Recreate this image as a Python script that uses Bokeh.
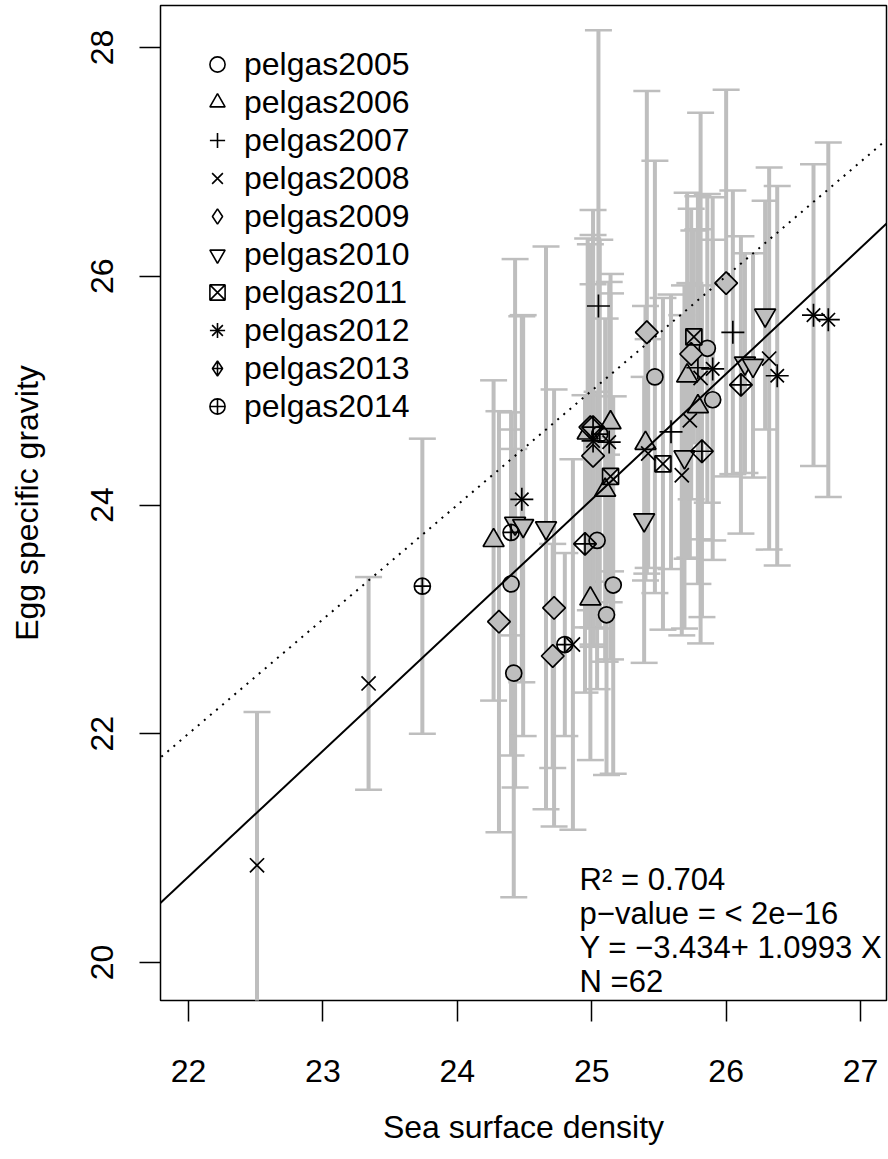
import math
from bokeh.plotting import figure
from bokeh.models import (Range1d, Whisker, TeeHead, ColumnDataSource, Slope,
                          Legend, LegendItem, Label, FixedTicker)
from bokeh.embed import file_html
from bokeh.resources import INLINE

# ---------------- data ----------------
years = ["pelgas2005", "pelgas2006", "pelgas2007", "pelgas2008", "pelgas2009",
         "pelgas2010", "pelgas2011", "pelgas2012", "pelgas2013", "pelgas2014"]

x_2005 = [24.40, 25.16, 25.11, 24.42, 25.04, 25.47, 25.86, 25.90]
y_2005 = [23.31, 23.30, 23.04, 22.53, 23.69, 25.12, 25.37, 24.92]
sd_2005 = [1.50, 1.65, 1.40, 1.96, 1.30, 1.89, 1.35, 1.40]

x_2006 = [24.27, 24.99, 25.14, 24.97, 25.10, 25.40, 25.71, 25.79]
y_2006 = [23.69, 23.18, 24.72, 24.63, 24.13, 24.54, 25.13, 24.86]
sd_2006 = [1.40, 1.41, 1.30, 1.70, 1.50, 1.20, 1.60, 1.55]

x_2007 = [25.05, 26.05, 25.59, 25.79]
y_2007 = [25.74, 25.51, 24.64, 25.20]
sd_2007 = [2.41, 1.24, 1.20, 1.50]

x_2008 = [22.51, 23.34, 24.86, 25.42, 25.73, 25.67, 26.32, 25.81]
y_2008 = [20.85, 22.44, 22.78, 24.45, 24.74, 24.26, 25.28, 25.11]
sd_2008 = [1.34, 0.93, 1.62, 1.00, 1.20, 1.40, 1.67, 2.32]

x_2009 = [24.31, 24.72, 24.71, 25.41, 26.00, 25.74, 24.99, 25.01]
y_2009 = [22.98, 23.10, 22.68, 25.51, 25.94, 25.32, 24.68, 24.43]
sd_2009 = [1.84, 1.91, 0.98, 2.11, 1.69, 1.27, 1.60, 1.50]

x_2010 = [24.43, 24.49, 24.66, 25.39, 25.69, 26.29, 26.14, 26.20]
y_2010 = [23.84, 23.82, 23.80, 23.87, 24.42, 25.66, 25.24, 25.22]
sd_2010 = [2.31, 1.84, 2.46, 1.25, 1.50, 1.00, 0.96, 0.98]

x_2011 = [25.14, 25.53, 25.76]
y_2011 = [24.25, 24.36, 25.47]
sd_2011 = [1.60, 1.45, 0.93]

x_2012 = [24.48, 25.01, 25.13, 25.90, 26.38, 26.65, 26.76]
y_2012 = [24.05, 24.56, 24.55, 25.19, 25.13, 25.66, 25.62]
sd_2012 = [1.60, 1.80, 1.40, 1.50, 1.66, 1.32, 1.55]

x_2013 = [24.95, 25.82, 26.11, 25.01]
y_2013 = [23.66, 24.47, 25.05, 24.68]
sd_2013 = [1.30, 1.45, 1.30, 1.90]

x_2014 = [23.74, 24.40, 24.80, 25.06]
y_2014 = [23.29, 23.76, 22.78, 24.62]
sd_2014 = [1.29, 0.90, 0.80, 1.70]

fit_intercept = -3.434
fit_slope = 1.0993
stats_lines = ["R\u00b2 = 0.704", "p\u2212value = < 2e\u221216",
               "Y = \u22123.434+ 1.0993 X", "N =62"]
x_ticks = [22, 23, 24, 25, 26, 27]
y_ticks = [20, 22, 24, 26, 28]

series_x = [x_2005, x_2006, x_2007, x_2008, x_2009, x_2010, x_2011, x_2012, x_2013, x_2014]
series_y = [y_2005, y_2006, y_2007, y_2008, y_2009, y_2010, y_2011, y_2012, y_2013, y_2014]
series_sd = [sd_2005, sd_2006, sd_2007, sd_2008, sd_2009, sd_2010, sd_2011, sd_2012, sd_2013, sd_2014]

# ---------------- styling ----------------
GREY = "#BEBEBE"
FONT = "Liberation Sans"
FS = "32px"
Q = math.pi / 4
# plot markers: (marker, size, filled, angle)
marker_spec = [
    [("circle", 16, True, 0)],
    [("triangle", 21, True, 0)],
    [("cross", 23, False, 0)],
    [("x", 20, False, 0)],
    [("square", 16, True, Q)],
    [("inverted_triangle", 21, True, 0)],
    [("square_x", 16, False, 0)],
    [("cross", 23, False, 0), ("x", 19, False, 0)],
    [("square_x", 16, False, Q)],
    [("circle_cross", 16, False, 0)],
]
# legend markers (legend ignores angle, so use native shapes)
legend_spec = [
    ["circle"], ["triangle"], ["cross"], ["x"], ["diamond"],
    ["inverted_triangle"], ["square_x"], ["cross", "x"], ["diamond_cross"],
    ["circle_cross"],
]

p = figure(width=888, height=1159, output_backend="svg", toolbar_location=None,
           x_range=Range1d(21.792, 27.193), y_range=Range1d(19.668, 28.367),
           min_border_left=160, min_border_right=2, min_border_top=5,
           min_border_bottom=159, background_fill_color="white",
           border_fill_color="white")
p.grid.visible = False
p.outline_line_color = "black"
p.outline_line_width = 1.5

for ax in (p.xaxis[0], p.yaxis[0]):
    ax.axis_line_color = None
    ax.major_tick_in = 0
    ax.major_tick_out = 21
    ax.minor_tick_in = 0
    ax.minor_tick_out = 0
    ax.major_tick_line_color = "black"
    ax.major_tick_line_width = 1.5
    ax.major_label_text_font = FONT
    ax.major_label_text_font_size = FS
    ax.major_label_text_color = "black"
    ax.axis_label_text_font = FONT
    ax.axis_label_text_font_size = FS
    ax.axis_label_text_font_style = "normal"
    ax.axis_label_text_color = "black"

p.xaxis.ticker = FixedTicker(ticks=x_ticks)
p.yaxis.ticker = FixedTicker(ticks=y_ticks)
p.xaxis.axis_label = "Sea surface density"
p.yaxis.axis_label = "Egg specific gravity"
p.xaxis.major_label_standoff = 38
p.xaxis.axis_label_standoff = 24
p.yaxis.major_label_orientation = "vertical"
p.yaxis.major_label_standoff = 26
p.yaxis.axis_label_standoff = 44

# error bars
for xs, ys, sds in zip(series_x, series_y, series_sd):
    src = ColumnDataSource(dict(x=xs, y=ys,
                                lo=[a - b for a, b in zip(ys, sds)],
                                hi=[a + b for a, b in zip(ys, sds)]))
    w = Whisker(base="x", lower="lo", upper="hi", source=src,
                line_color=GREY, line_width=4, level="underlay",
                upper_head=TeeHead(size=27, line_color=GREY, line_width=2.5),
                lower_head=TeeHead(size=27, line_color=GREY, line_width=2.5))
    p.add_layout(w)

# points
legend_items = []
for name, xs, ys, spec, lspec in zip(years, series_x, series_y, marker_spec, legend_spec):
    src = ColumnDataSource(dict(x=xs, y=ys))
    for mk, sz, filled, ang in spec:
        p.scatter("x", "y", source=src, marker=mk, size=sz, angle=ang,
                  line_color="black", line_width=1.7,
                  fill_color=GREY if filled else None)
    proxies = []
    for mk in lspec:
        prox = p.scatter(x=[float("nan")], y=[float("nan")], marker=mk,
                         line_color="black", line_width=1.6, fill_color=None)
        proxies.append(prox)
    legend_items.append(LegendItem(label=name, renderers=proxies))

# lines
p.add_layout(Slope(gradient=1, y_intercept=0, line_color="black",
                   line_width=2, line_dash="2 6"))
p.add_layout(Slope(gradient=fit_slope, y_intercept=fit_intercept,
                   line_color="black", line_width=2))

legend = Legend(items=legend_items, location=(37, 575), orientation="vertical",
                glyph_width=40, glyph_height=38, label_height=38, spacing=0,
                padding=0, margin=0, label_standoff=7,
                label_text_font=FONT, label_text_font_size=FS,
                label_text_color="black", background_fill_alpha=0,
                border_line_color=None)
p.add_layout(legend)

# statistics text
stat_y = [20.73, 20.43, 20.13, 19.83]
for txt, yy in zip(stats_lines, stat_y):
    p.add_layout(Label(x=24.91, y=yy, text=txt, text_font=FONT,
                       text_font_size="31px", text_color="black",
                       text_baseline="middle", text_align="left"))

open("out.html", "w").write(file_html(p, INLINE))
